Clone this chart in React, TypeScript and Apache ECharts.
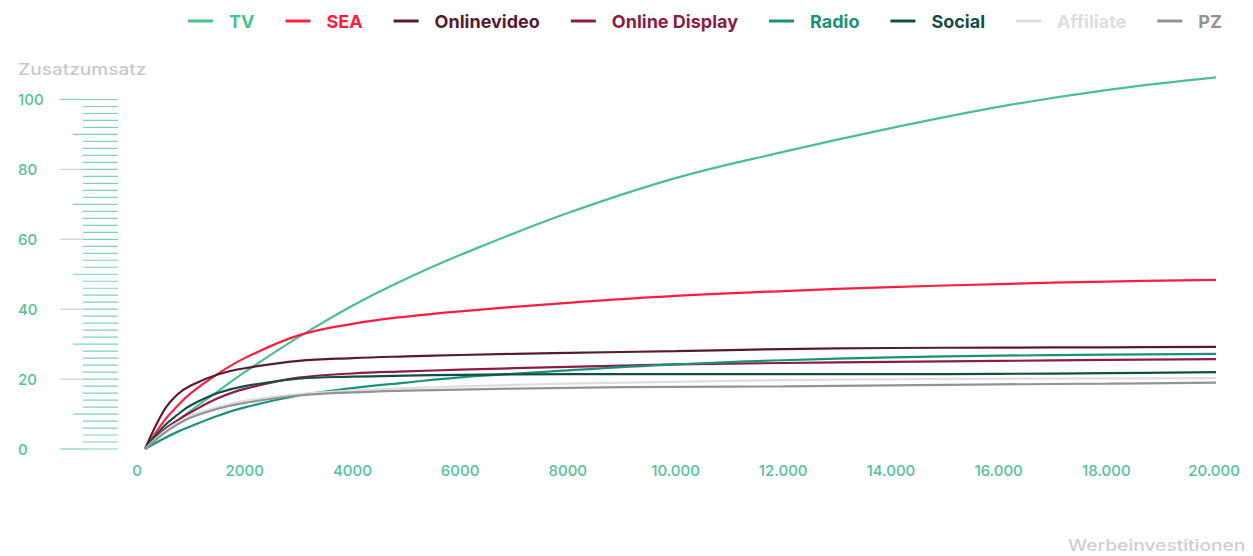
import React, { useEffect, useRef } from "react";
import * as echarts from "echarts";

const X = [150, 500, 750, 1000, 1500, 2000, 3000, 4000, 5000, 6000, 8000, 10000, 12000, 14000, 16000, 18000, 20150];
const TV = [0, 5, 8, 11, 16.5, 22, 32, 41, 48.7, 55.5, 67.5, 77.5, 85, 91.8, 97.9, 102.7, 106.5];
const SEA = [0, 8, 12.3, 16, 21.5, 26, 32.5, 35.8, 37.9, 39.4, 41.8, 43.8, 45.2, 46.3, 47.2, 47.9, 48.4];
const ONLINEVIDEO = [0, 11, 15.6, 18.2, 21.3, 23.1, 25.2, 26, 26.5, 26.9, 27.5, 28, 28.6, 28.9, 29, 29.1, 29.2];
const ONLINE_DISPLAY = [0, 5.5, 8.2, 10.5, 14.5, 17.2, 20.4, 21.6, 22.2, 22.7, 23.5, 24.2, 24.6, 24.9, 25.2, 25.5, 25.7];
const RADIO = [0, 3, 4.9, 6.5, 9.5, 11.9, 15.3, 17.4, 19, 20.5, 22.5, 24.2, 25.4, 26.2, 26.7, 27, 27.2];
const SOCIAL = [0, 6.5, 9.8, 12.5, 16, 18, 20.1, 20.7, 21, 21.2, 21.4, 21.4, 21.4, 21.4, 21.5, 21.7, 22];
const AFFILIATE = [0, 5, 7.5, 9.5, 12, 13.8, 15.7, 16.7, 17.4, 17.9, 18.7, 19.2, 19.7, 19.95, 20.1, 20.2, 20.3];
const PZ = [0, 4.5, 7, 9, 11.5, 13.2, 15.3, 16.2, 16.7, 17, 17.5, 17.8, 17.9, 18.2, 18.5, 18.7, 19];

const NAMES = ["TV", "SEA", "Onlinevideo", "Online Display", "Radio", "Social", "Affiliate", "PZ"];
const VALUES = [TV, SEA, ONLINEVIDEO, ONLINE_DISPLAY, RADIO, SOCIAL, AFFILIATE, PZ];
const COLORS = ["#4cbf8f", "#ff1d3f", "#561b31", "#8c1c44", "#19927a", "#124f46", "#dedede", "#939393"];

const Y_TICKS = Array.from({ length: 51 }, (_, i) => i * 2);
const Y_MAX = 100;
const X_MAX = 20000;
const Y_TITLE = "Zusatzumsatz";
const X_TITLE = "Werbeinvestitionen";

const LABEL_COLOR = "#52c19b";
const FONT = "Inter, 'Noto Sans', sans-serif";

export default function App() {
  const ref = useRef<HTMLDivElement>(null);
  useEffect(() => {
    if (!ref.current) return;
    const chart = echarts.init(ref.current, null, { renderer: "svg" });
    const lineSeries = NAMES.map((name, i) => ({
      name,
      type: "line",
      data: X.map((x, j) => [x, VALUES[i][j]]),
      smooth: 0.4,
      symbol: "none",
      clip: false,
      lineStyle: { width: 2.2, color: COLORS[i] },
      itemStyle: { color: COLORS[i] },
      z: 3,
    }));
    const tickSeries = {
      type: "custom",
      clip: false,
      silent: true,
      data: Y_TICKS.map((v) => [0, v]),
      renderItem: (params: any, api: any) => {
        const v = api.value(1);
        const p = api.coord([0, v]);
        const end = p[0] - 19;
        const major = v % 20 === 0;
        const mid = v % 10 === 0;
        const start = major ? p[0] - 77 : mid ? p[0] - 64 : p[0] - 54;
        const children: any[] = [
          {
            type: "line",
            shape: { x1: major ? p[0] - 54 : start, y1: p[1], x2: end, y2: p[1] },
            style: { stroke: "#7fd2b3", lineWidth: 1.2 },
          },
        ];
        if (major) {
          const grayish = v !== 0 && v !== 100;
          children.push({
            type: "line",
            shape: { x1: start, y1: p[1], x2: p[0] - 54, y2: p[1] },
            style: { stroke: grayish ? "#d6cdd0" : "#7fd2b3", lineWidth: 1.2 },
          });
        }
        return { type: "group", children };
      },
      z: 1,
    };
    chart.setOption({
      animation: false,
      backgroundColor: "#ffffff",
      textStyle: { fontFamily: FONT },
      grid: { left: 137, right: 39, top: 99.5, bottom: 107 },
      legend: {
        left: 183,
        top: 7,
        itemGap: 31,
        itemWidth: 25,
        itemHeight: 3,
        icon: "rect",
        data: NAMES.map((n, i) => ({
          name: n,
          textStyle: { color: COLORS[i] },
        })),
        textStyle: {
          fontFamily: FONT,
          fontSize: 18,
          fontWeight: "bold",
          padding: [0, 0, 0, 11],
        },
      },
      xAxis: {
        type: "value",
        min: 0,
        max: X_MAX,
        interval: 2000,
        axisLine: { show: false },
        axisTick: { show: false },
        splitLine: { show: false },
        axisLabel: {
          color: LABEL_COLOR,
          fontSize: 15,
          fontWeight: 500,
          fontFamily: FONT,
          margin: 14,
          formatter: (v: number) =>
            v >= 10000 ? `${Math.floor(v / 1000)}.${String(v % 1000).padStart(3, "0")}` : String(v),
        },
      },
      yAxis: {
        type: "value",
        min: 0,
        max: Y_MAX,
        interval: 20,
        axisLine: { show: false },
        axisTick: { show: false },
        splitLine: { show: false },
        axisLabel: {
          color: LABEL_COLOR,
          fontSize: 15,
          fontWeight: 500,
          fontFamily: FONT,
          align: "left",
          margin: 119,
        },
      },
      graphic: [
        {
          type: "text",
          x: 18,
          y: 61,
          scaleX: 1.19,
          style: { text: Y_TITLE, fill: "#c9c9c9", font: `500 16px ${FONT}` },
        },
        {
          type: "text",
          x: 1068,
          y: 537,
          scaleX: 1.2,
          style: { text: X_TITLE, fill: "#cfcfcf", font: `500 16px ${FONT}` },
        },
      ],
      series: [tickSeries, ...lineSeries],
    });
    return () => chart.dispose();
  }, []);
  return (
    <div
      ref={ref}
      style={{ position: "fixed", left: 0, top: 0, width: 1253, height: 556, background: "#fff" }}
    />
  );
}
